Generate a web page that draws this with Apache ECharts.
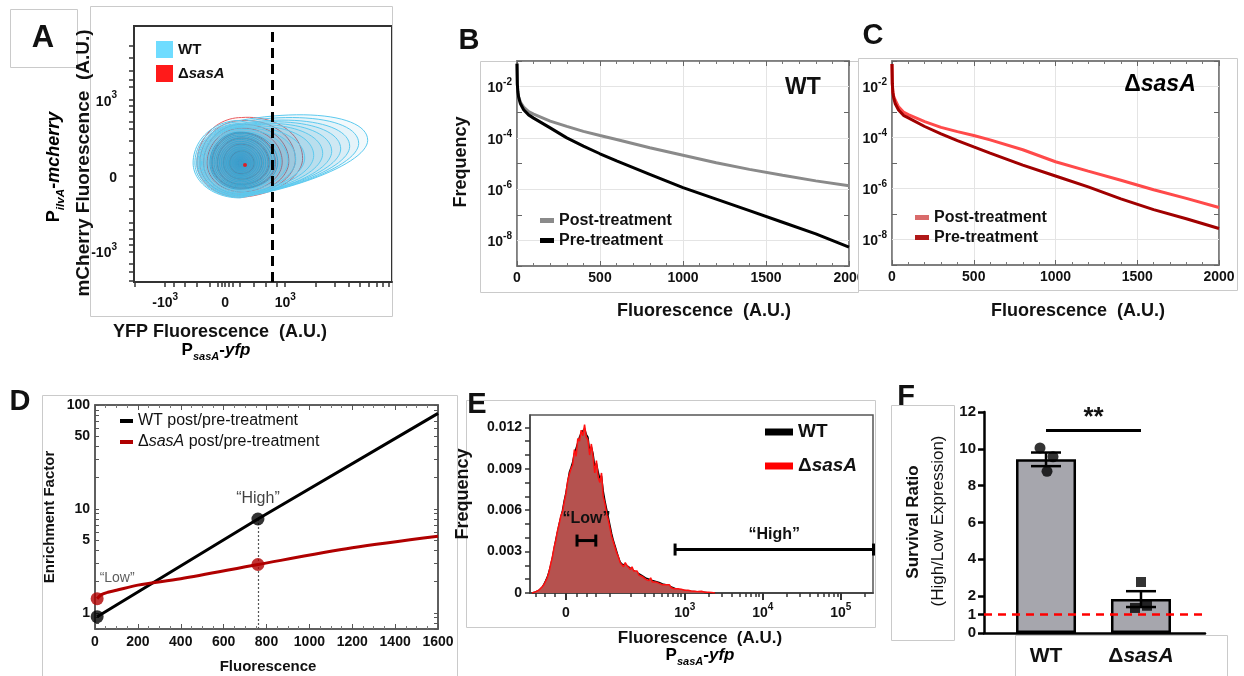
<!DOCTYPE html>
<html><head><meta charset="utf-8">
<script src="https://cdn.jsdelivr.net/npm/echarts@6/dist/echarts.min.js"></script>
<style>html,body{margin:0;padding:0;background:#fff}#c{width:1244px;height:676px}</style>
</head><body><div id="c"></div>
<script>
// ================= DATA =================
// Panel A: flow-cytometry contour levels in logicle display units
// each level: [leftRadius, rightRadius, topRadius, bottomRadius, upwardTilt]
const aCenterWT = [0.245, 0.167];
const aCenterSas = [0.27, 0.165];
const aContoursWT = [
  [0.78,2.13,0.56,0.46,0.14],[0.75,1.98,0.54,0.45,0.13],[0.72,1.83,0.52,0.44,0.12],
  [0.70,1.68,0.51,0.43,0.11],[0.68,1.53,0.50,0.43,0.10],[0.66,1.38,0.49,0.42,0.09],
  [0.64,1.23,0.48,0.41,0.08],[0.62,1.08,0.47,0.40,0.06],[0.60,0.93,0.46,0.40,0.05],
  [0.57,0.80,0.44,0.38,0.04],[0.53,0.68,0.42,0.36,0.02],[0.50,0.63,0.405,0.345,0.01],
  [0.48,0.58,0.39,0.33,0],[0.455,0.54,0.37,0.315,0],[0.43,0.50,0.35,0.30,0],
  [0.40,0.465,0.33,0.285,0],[0.37,0.43,0.31,0.27,0],[0.34,0.395,0.285,0.25,0],
  [0.31,0.36,0.26,0.23,0],[0.28,0.325,0.235,0.21,0],[0.25,0.29,0.21,0.19,0],
  [0.22,0.255,0.185,0.17,0],[0.19,0.22,0.16,0.15,0],[0.16,0.185,0.135,0.125,0],
  [0.13,0.15,0.11,0.10,0],[0.10,0.115,0.085,0.08,0],[0.07,0.08,0.06,0.06,0],[0.04,0.045,0.035,0.035,0]
];
const aContoursSas = [
  [0.74,1.02,0.60,0.45,0.06],[0.69,0.90,0.56,0.43,0.05],[0.63,0.79,0.51,0.41,0.03],
  [0.57,0.68,0.46,0.38,0.02],[0.49,0.57,0.40,0.33,0],[0.40,0.46,0.33,0.28,0],
  [0.30,0.34,0.25,0.21,0],[0.19,0.21,0.16,0.14,0]
];
const aPeakSas = [0.33, 0.14];
const aGate = 715;                       // YFP gate, A.U.
const aTickVals = [-1000, 0, 1000];
const aTickLabels = ['-10|3', '0', '10|3'];
const aMinorVals = [-5000,-4000,-3000,-2000,-1000,-800,-600,-400,-200,-100,-50,0,50,100,200,400,600,800,1000,2000,3000,4000,5000,6000,7000,8000,9000];
const aYMinorVals = [-5000,-3000,-2000,-1000,-700,-500,-300,-200,-100,-50,-20,0,20,50,100,200,300,500,700,1000,2000,3000,5000,10000,20000];

// Panels B / C: frequency vs fluorescence
const fluor   = [0,2,5,10,20,40,70,100,200,300,400,500,600,800,1000,1200,1400,1600,1800,2000];
const wtPost  = [0.079,0.0126,0.0063,0.004,0.0025,0.0016,0.00107,8.5e-4,4.5e-4,2.8e-4,1.8e-4,1.23e-4,8.7e-5,4.1e-5,2.1e-5,1.07e-5,5.9e-6,3.5e-6,2.1e-6,1.35e-6];
const wtPre   = [0.079,0.0126,0.0063,0.0038,0.0022,0.00126,7.9e-4,5.9e-4,2.45e-4,1.0e-4,4.8e-5,2.4e-5,1.26e-5,3.8e-6,1.15e-6,4.1e-7,1.45e-7,5.1e-8,1.8e-8,5.5e-9];
const sasPost = [0.076,0.0126,0.0063,0.0042,0.0029,0.0016,0.001,7.9e-4,4.2e-4,2.5e-4,1.7e-4,1.2e-4,8.1e-5,3.3e-5,1.12e-5,4.8e-6,2.1e-6,8.9e-7,4.1e-7,1.8e-7];
const sasPre  = [0.076,0.0126,0.006,0.0037,0.0021,0.0012,7.4e-4,5.9e-4,2.7e-4,1.38e-4,7.6e-5,4.3e-5,2.45e-5,8.3e-6,3.1e-6,1.15e-6,3.9e-7,1.48e-7,6.5e-8,2.7e-8];
const freqLabelExps = [-8,-6,-4,-2];

// Panel D: enrichment factor
const dWTx  = [10, 760, 1600];
const dWT   = [0.92, 8.0, 83];
const dSasX = [10,30,60,100,200,400,760,1200,1600];
const dSas  = [1.37,1.5,1.58,1.65,1.85,2.13,2.92,4.23,5.46];
const dDotsX = [10, 760];
const dDotsWT = [0.92, 8.0];
const dDotsSas = [1.37, 2.92];
const dDotLabelsWT = ['', '“High”'];
const dDotLabelsSas = ['“Low”', ''];
const dYLabels = [1, 5, 10, 50, 100];
const dYTicks = [0.7,0.8,0.9,1,2,3,4,5,6,7,8,9,10,20,30,40,50,60,70,80,90,100];

// Panel E: histograms on logicle channels (start, step in display units)
const eBinStart = -1.0, eBinStep = 0.05;
const eWT = [
  0,0.00003,0.00007,0.00011,0.00018,0.00028,0.00042,0.00062,0.00088,0.00115,0.00155,0.002,0.00255,0.0032,0.00385,0.0044,0.005,0.0055,0.006,0.0067,
  0.00725,0.008,0.00875,0.0091,0.0095,0.0101,0.0102,0.0109,0.0113,0.0116,0.0117,0.0119,0.0115,0.0113,0.0103,0.0106,0.0101,0.0092,0.0094,0.0088,
  0.0083,0.0085,0.0074,0.0067,0.0061,0.0055,0.0049,0.0043,0.0038,0.0034,0.003,0.0026,0.00225,0.0021,0.002,0.002,0.0019,0.0019,0.0018,0.0017,
  0.0016,0.00155,0.0015,0.0014,0.00135,0.00125,0.0012,0.0011,0.00105,0.001,0.00095,0.0009,0.00088,0.00084,0.0008,0.00076,0.0007,0.00066,0.00064,0.0006,
  0.00055,0.0005,0.00045,0.0004,0.00034,0.0003,0.00027,0.00024,0.00022,0.0002,0.00018,0.00016,0.00015,0.00013,0.00012,0.00011,0.0001,0.00009,0.00008,0.00007,
  0.00006,0.00005,0.00004,0.00003,0.00003,0.00002,0.00002,0.00001,0];
const eSas = [
  0,0.00004,0.00008,0.00012,0.0002,0.0003,0.00045,0.0006,0.00085,0.0011,0.0015,0.0021,0.0026,0.0033,0.0038,0.0045,0.005,0.0056,0.0059,0.0066,
  0.0072,0.0081,0.0086,0.009,0.0093,0.0104,0.0099,0.0112,0.011,0.0118,0.0114,0.0122,0.0113,0.0111,0.01,0.0108,0.0099,0.0087,0.0096,0.0084,
  0.008,0.0087,0.007,0.0065,0.0058,0.0053,0.0047,0.0041,0.0037,0.0033,0.0029,0.0026,0.0022,0.0021,0.0019,0.0022,0.002,0.0019,0.0017,0.0019,
  0.0016,0.0015,0.0016,0.0013,0.0014,0.0012,0.0013,0.001,0.0011,0.0009,0.0011,0.0008,0.0009,0.0008,0.0009,0.0007,0.0008,0.0006,0.0007,0.0006,
  0.0005,0.0006,0.0004,0.00045,0.0003,0.00025,0.0003,0.0002,0.00028,0.00018,0.0002,0.00015,0.0002,0.00012,0.00015,0.0001,0.00013,0.00008,0.0001,0.00007,
  0.00012,0.00005,0.00006,0.00004,0.00005,0.00002,0.00003,0.00001,0];
const eTickVals = [0, 1000, 10000, 100000];
const eTickLabels = ['0', '10|3', '10|4', '10|5'];
const eMinorVals = [-200,-100,-60,-40,-20,20,40,60,100,200,300,400,500,600,700,800,900,2000,3000,4000,5000,6000,7000,8000,9000,20000,30000,40000,50000,60000,70000,80000,90000,200000];
const eYLabels = [0, 0.003, 0.006, 0.009, 0.012];
const eYTicks = [0,0.001,0.002,0.003,0.004,0.005,0.006,0.007,0.008,0.009,0.010,0.011,0.012];
const eGates = [
  {name: '“Low”',  from: 20,  to: 60,     level: 0.0038},
  {name: '“High”', from: 750, to: 262144, level: 0.00315}
];

// Panel F: survival ratio
const fCats = ['WT', 'ΔsasA'];
const fMeans = [9.43, 1.84];
const fSem = [0.37, 0.43];
const fPoints = [[10.05, 9.57, 8.78], [2.77, 1.36, 1.48]];
const fYTicks = [0, 1, 2, 4, 6, 8, 10, 12];
const fRef = 1;
const fSig = {from: 0, to: 1, y: 11.0, text: '**'};

// ================= HELPERS =================
const FF = '"Liberation Sans", Arial, Helvetica, sans-serif';
const ax = v => Math.asinh(v / 645) / Math.asinh(1000 / 645);   // panel A YFP axis
const ay = v => Math.asinh(v / 30) / Math.asinh(1000 / 30);     // panel A mCherry axis
const ex = v => Math.asinh(v / 60);                             // panel E axis
const lg = Math.log10;

function contour(c, ctr) {
  const [rl, rr, rt, rb, tilt] = c, pts = [];
  for (let i = 0; i < 96; i++) {
    const t = i / 96 * 2 * Math.PI, co = Math.cos(t), si = Math.sin(t);
    const dx = (co >= 0 ? rr : rl) * co;
    const dy = (si >= 0 ? rt : rb) * si + tilt * Math.max(0, dx);
    pts.push([ctr[0] + dx, ctr[1] + dy]);
  }
  return pts;
}
const supRich = (b, s, col) => ({
  b: {fontFamily: FF, fontWeight: 'bold', fontSize: b, color: col || '#111', verticalAlign: 'bottom', lineHeight: b + 4},
  s: {fontFamily: FF, fontWeight: 'bold', fontSize: s, color: col || '#111', verticalAlign: 'top', lineHeight: s}
});
const supFmt = lab => lab.indexOf('|') < 0 ? '{b|' + lab + '}' : '{b|' + lab.split('|')[0] + '}{s|' + lab.split('|')[1] + '}';
const near = (arr, v) => arr.findIndex(a => Math.abs(a - v) < 1e-6);
const boldLab = (size, extra) => Object.assign({fontFamily: FF, fontWeight: 'bold', fontSize: size, color: '#111'}, extra || {});
const sasRich = (size, weight) => ({
  n: {fontFamily: FF, fontWeight: weight, fontSize: size, color: '#111'},
  i: {fontFamily: FF, fontWeight: weight, fontStyle: 'italic', fontSize: size, color: '#111'}
});
const sasFmt = s => s.indexOf('sasA') < 0 ? '{n|' + s + '}' : '{n|Δ}{i|sasA}{n|' + s.split('sasA')[1] + '}';
const stripPrefix = n => n.split(':')[1];
const plain = v => String(v);

// ================= AXES =================
const tickStyle = (c, w) => ({color: c, width: w || 1});
const xAxis = [], yAxis = [];
// A
xAxis.push({gridIndex: 0, type: 'value', min: -1.52, max: 2.78,
  axisLine: {show: true, lineStyle: tickStyle('#333', 2)},
  axisTick: {show: true, inside: false, length: 5, customValues: aMinorVals.map(ax), lineStyle: tickStyle('#333', 1.5)},
  axisLabel: {customValues: aTickVals.map(ax), margin: 10, formatter: v => supFmt(aTickLabels[near(aTickVals.map(ax), v)]), rich: supRich(14, 10)},
  splitLine: {show: false}});
yAxis.push({gridIndex: 0, type: 'value', min: -1.4, max: 1.97,
  axisLine: {show: true, lineStyle: tickStyle('#333', 2)},
  axisTick: {show: true, inside: false, length: 5, customValues: aYMinorVals.map(ay), lineStyle: tickStyle('#333', 1.5)},
  axisLabel: {customValues: aTickVals.map(ay), margin: 17, formatter: v => supFmt(aTickLabels[near(aTickVals.map(ay), v)]), rich: supRich(14, 10)},
  splitLine: {show: false}});
// B and C
function freqAxes(g) {
  xAxis.push({gridIndex: g, type: 'value', position: 'bottom', min: 0, max: 2000, interval: 500,
    axisLine: {lineStyle: tickStyle('#777', 1.5)},
    axisTick: {inside: true, length: 5, lineStyle: tickStyle('#666')},
    minorTick: {show: true, splitNumber: 5, length: 3, lineStyle: tickStyle('#777')},
    axisLabel: Object.assign(boldLab(14), {margin: 5, formatter: plain}),
    splitLine: {show: true, lineStyle: {color: '#e4e4e4', width: 1}}});
  xAxis.push({gridIndex: g, type: 'value', position: 'top', min: 0, max: 2000, interval: 500,
    axisLine: {lineStyle: tickStyle('#777', 1.5)},
    axisTick: {inside: true, length: 5, lineStyle: tickStyle('#666')},
    minorTick: {show: true, splitNumber: 5, length: 3, lineStyle: tickStyle('#777')},
    axisLabel: {show: false}, splitLine: {show: false}});
  yAxis.push({gridIndex: g, type: 'value', position: 'left', min: -9, max: -1, interval: 1,
    axisLine: {lineStyle: tickStyle('#777', 1.5)},
    axisTick: {inside: true, length: 5, lineStyle: tickStyle('#666')},
    axisLabel: {customValues: freqLabelExps, margin: 5, formatter: v => '{b|10}{s|' + v + '}', rich: supRich(14, 10)},
    splitLine: {show: false}});
  yAxis.push({gridIndex: g, type: 'value', position: 'right', min: -9, max: -1, interval: 1,
    axisLine: {lineStyle: tickStyle('#777', 1.5)},
    axisTick: {inside: true, length: 5, lineStyle: tickStyle('#666')},
    axisLabel: {show: false}, splitLine: {show: false}});
}
freqAxes(1); freqAxes(2);
// D
xAxis.push({gridIndex: 3, type: 'value', position: 'bottom', min: 0, max: 1600, interval: 200,
  axisLine: {lineStyle: tickStyle('#555', 1.5)},
  axisTick: {inside: true, length: 5, lineStyle: tickStyle('#555')},
  minorTick: {show: true, splitNumber: 4, length: 3, lineStyle: tickStyle('#777')},
  axisLabel: Object.assign(boldLab(14), {margin: 6, formatter: plain}), splitLine: {show: false}});
xAxis.push({gridIndex: 3, type: 'value', position: 'top', min: 0, max: 1600, interval: 200,
  axisLine: {lineStyle: tickStyle('#555', 1.5)},
  axisTick: {inside: true, length: 5, lineStyle: tickStyle('#555')},
  minorTick: {show: true, splitNumber: 4, length: 3, lineStyle: tickStyle('#777')},
  axisLabel: {show: false}, splitLine: {show: false}});
yAxis.push({gridIndex: 3, type: 'value', position: 'left', min: lg(0.7), max: 2,
  axisLine: {lineStyle: tickStyle('#555', 1.5)},
  axisTick: {inside: true, length: 4, customValues: dYTicks.map(lg), lineStyle: tickStyle('#555')},
  axisLabel: Object.assign(boldLab(14), {customValues: dYLabels.map(lg), margin: 5, formatter: v => String(Math.round(Math.pow(10, v)))}),
  splitLine: {show: false}});
yAxis.push({gridIndex: 3, type: 'value', position: 'right', min: lg(0.7), max: 2,
  axisLine: {lineStyle: tickStyle('#555', 1.5)},
  axisTick: {inside: true, length: 4, customValues: dYTicks.map(lg), lineStyle: tickStyle('#555')},
  axisLabel: {show: false}, splitLine: {show: false}});
// E
xAxis.push({gridIndex: 4, type: 'value', position: 'bottom', min: -1.06, max: 9.06,
  axisLine: {lineStyle: tickStyle('#444', 1.5)},
  axisTick: {inside: false, length: 7, customValues: eTickVals.map(ex), lineStyle: tickStyle('#333', 2)},
  axisLabel: {customValues: eTickVals.map(ex), margin: 9, formatter: v => supFmt(eTickLabels[near(eTickVals.map(ex), v)]), rich: supRich(14, 10)},
  splitLine: {show: false}});
xAxis.push({gridIndex: 4, type: 'value', position: 'bottom', min: -1.06, max: 9.06,
  axisLine: {lineStyle: tickStyle('#444', 1.5)},
  axisTick: {inside: false, length: 4, customValues: eMinorVals.map(ex), lineStyle: tickStyle('#333', 1.5)},
  axisLabel: {show: false}, splitLine: {show: false}});
yAxis.push({gridIndex: 4, type: 'value', position: 'left', min: 0, max: 0.0129,
  axisLine: {lineStyle: tickStyle('#444', 1.5)},
  axisTick: {inside: false, length: 5, customValues: eYTicks, lineStyle: tickStyle('#333', 1.5)},
  axisLabel: Object.assign(boldLab(14), {customValues: eYLabels, margin: 8, formatter: v => v === 0 ? '0' : v.toFixed(3)}),
  splitLine: {show: false}});
// F
xAxis.push({gridIndex: 5, type: 'value', position: 'bottom', min: -0.653, max: 1.674,
  axisLine: {lineStyle: tickStyle('#000', 2.5)}, axisTick: {show: false},
  axisLabel: {customValues: [0, 1], margin: 13, formatter: v => sasFmt(fCats[Math.round(v)]), rich: sasRich(21, 'bold')},
  splitLine: {show: false}});
yAxis.push({gridIndex: 5, type: 'value', position: 'left', min: 0, max: 12,
  axisLine: {lineStyle: tickStyle('#000', 2.5)},
  axisTick: {inside: false, length: 6, customValues: fYTicks, lineStyle: tickStyle('#000', 2.5)},
  axisLabel: Object.assign(boldLab(15), {customValues: fYTicks, margin: 8}),
  splitLine: {show: false}});
xAxis.concat(yAxis).forEach(a => { a.axisLine = Object.assign({show: true, onZero: false}, a.axisLine); });

// ================= SERIES =================
const series = [];
const base = {animation: false, silent: true};
function contourSeries(name, levels, ctr, fill, stroke, strokeInner, z) {
  series.push(Object.assign({type: 'custom', name: name, xAxisIndex: 0, yAxisIndex: 0, z: z, color: stroke,
    data: levels.map(() => ctr.slice()),
    renderItem: (p, api) => ({type: 'polygon',
      shape: {points: contour(levels[p.dataIndex], ctr).map(q => api.coord(q))},
      style: {fill: fill, stroke: p.dataIndex < 11 ? stroke : strokeInner, lineWidth: 1}})}, base));
}
contourSeries('A:ΔsasA', aContoursSas, aCenterSas, 'rgba(230,80,80,0.04)', '#ea5d5f', '#e04848', 2);
contourSeries('A:WT', aContoursWT, aCenterWT, 'rgba(40,160,210,0.06)', '#5ccaef', '#38a6d2', 3);
series.push(Object.assign({type: 'scatter', xAxisIndex: 0, yAxisIndex: 0, data: [aPeakSas], symbolSize: 4, color: '#ff0000', z: 5,
  markLine: {silent: true, symbol: 'none', z: 6, label: {show: false}, lineStyle: {color: '#000', type: [10, 6], width: 3},
    data: [{xAxis: ax(aGate)}]}}, base));

function freqSeries(g, xi, yi, post, pre, cPost, cPre) {
  series.push(Object.assign({type: 'line', name: g + ':Post-treatment', xAxisIndex: xi, yAxisIndex: yi,
    data: fluor.map((x, i) => [x, lg(post[i])]), symbol: 'none', color: cPost[0],
    lineStyle: {color: cPost[1], width: 3}, z: 3,
    markLine: {silent: true, symbol: 'none', z: 1, label: {show: false}, lineStyle: {color: '#e4e4e4', type: 'solid', width: 1},
      data: freqLabelExps.map(e => ({yAxis: e}))}}, base));
  series.push(Object.assign({type: 'line', name: g + ':Pre-treatment', xAxisIndex: xi, yAxisIndex: yi,
    data: fluor.map((x, i) => [x, lg(pre[i])]), symbol: 'none', color: cPre[0],
    lineStyle: {color: cPre[1], width: 3}, z: 4}, base));
}
freqSeries('B', 1, 1, wtPost, wtPre, ['#8a8a8a', '#8a8a8a'], ['#000', '#000']);
freqSeries('C', 3, 3, sasPost, sasPre, ['#d96b6b', '#ff4a4a'], ['#b01818', '#a00000']);

// D
series.push(Object.assign({type: 'line', name: 'D:WT post/pre-treatment', xAxisIndex: 5, yAxisIndex: 5,
  data: dWTx.map((x, i) => [x, lg(dWT[i])]), symbol: 'none', color: '#000', lineStyle: {color: '#000', width: 3}, z: 3}, base));
series.push(Object.assign({type: 'line', name: 'D:ΔsasA post/pre-treatment', xAxisIndex: 5, yAxisIndex: 5,
  data: dSasX.map((x, i) => [x, lg(dSas[i])]), smooth: 0.3, symbol: 'none', color: '#b00000', lineStyle: {color: '#b00000', width: 3}, z: 3}, base));
series.push(Object.assign({type: 'scatter', xAxisIndex: 5, yAxisIndex: 5, symbolSize: 13, color: '#b00000', z: 5,
  data: dDotsX.map((x, i) => ({value: [x, lg(dDotsSas[i])],
    label: {show: !!dDotLabelsSas[i], formatter: dDotLabelsSas[i], position: 'top', distance: 7, offset: [20, 0],
      fontFamily: FF, fontSize: 14, color: '#333'}}))}, base));
series.push(Object.assign({type: 'scatter', xAxisIndex: 5, yAxisIndex: 5, symbolSize: 13, color: '#000', z: 6,
  data: dDotsX.map((x, i) => ({value: [x, lg(dDotsWT[i])],
    label: {show: !!dDotLabelsWT[i], formatter: dDotLabelsWT[i], position: 'top', distance: 6,
      fontFamily: FF, fontSize: 16, color: '#111'}})),
  markLine: {silent: true, symbol: 'none', z: 2, label: {show: false}, lineStyle: {color: '#555', type: [2, 2], width: 1.2},
    data: [[{coord: [dDotsX[1], lg(0.7)]}, {coord: [dDotsX[1], lg(dDotsWT[1])]}]]}}, base));

// E
series.push(Object.assign({type: 'line', name: 'E:WT', xAxisIndex: 7, yAxisIndex: 7,
  data: eWT.map((v, i) => [eBinStart + i * eBinStep, v]), symbol: 'none', color: '#000',
  lineStyle: {color: '#000', width: 1.5}, z: 2}, base));
series.push(Object.assign({type: 'line', name: 'E:ΔsasA', xAxisIndex: 7, yAxisIndex: 7,
  data: eSas.map((v, i) => [eBinStart + i * eBinStep, v]), symbol: 'none', color: '#ff0000',
  lineStyle: {color: '#ff1010', width: 1.5}, areaStyle: {color: '#b5524f', opacity: 1}, z: 3}, base));
const eGateDy = [-22, -15];
series.push(Object.assign({type: 'custom', xAxisIndex: 7, yAxisIndex: 7, z: 6,
  data: eGates.map(g => [ex(g.from), g.level, ex(g.to)]), encode: {x: [0, 2], y: 1},
  renderItem: (p, api) => {
    const g = eGates[p.dataIndex];
    const a = api.coord([api.value(0), api.value(1)]), b = api.coord([api.value(2), api.value(1)]);
    const st = {stroke: '#000', lineWidth: 3};
    return {type: 'group', children: [
      {type: 'line', shape: {x1: a[0], y1: a[1], x2: b[0], y2: b[1]}, style: st},
      {type: 'line', shape: {x1: a[0], y1: a[1] - 6, x2: a[0], y2: a[1] + 6}, style: st},
      {type: 'line', shape: {x1: b[0], y1: b[1] - 6, x2: b[0], y2: b[1] + 6}, style: st},
      {type: 'text', x: (a[0] + b[0]) / 2, y: a[1] + eGateDy[p.dataIndex],
        style: {text: g.name, fill: '#111', font: 'bold 16px ' + FF, textAlign: 'center', textVerticalAlign: 'middle'}}
    ]};
  }}, base));

// F
series.push(Object.assign({type: 'bar', xAxisIndex: 9, yAxisIndex: 8, barWidth: 60,
  data: fMeans.map((m, i) => [i, m]), itemStyle: {color: '#a6a6ad', borderColor: '#000', borderWidth: 2.5}, z: 2,
  markLine: {silent: true, symbol: 'none', z: 3, label: {show: false}, lineStyle: {color: '#ff0000', type: [8, 6], width: 2.5},
    data: [{yAxis: fRef}]}}, base));
series.push(Object.assign({type: 'custom', xAxisIndex: 9, yAxisIndex: 8, z: 4,
  data: fMeans.map((m, i) => [i, m, fSem[i]]),
  renderItem: (p, api) => {
    const x = api.value(0), m = api.value(1), s = api.value(2);
    const hi = api.coord([x, m + s]), lo = api.coord([x, m - s]);
    const st = {stroke: '#000', lineWidth: 2.5};
    return {type: 'group', children: [
      {type: 'line', shape: {x1: hi[0], y1: hi[1], x2: lo[0], y2: lo[1]}, style: st},
      {type: 'line', shape: {x1: hi[0] - 15, y1: hi[1], x2: hi[0] + 15, y2: hi[1]}, style: st},
      {type: 'line', shape: {x1: lo[0] - 15, y1: lo[1], x2: lo[0] + 15, y2: lo[1]}, style: st}
    ]};
  }}, base));
const fJitter = [[-6, 7, 1], [0, -6, 6]];
fPoints.forEach((pts, g) => series.push(Object.assign({type: 'scatter', xAxisIndex: 9, yAxisIndex: 8, z: 5,
  symbol: g === 0 ? 'circle' : 'rect', symbolSize: g === 0 ? 11 : 10, color: '#000',
  data: pts.map((v, k) => ({value: [g, v], symbolOffset: [fJitter[g][k], 0]}))}, base)));
series.push(Object.assign({type: 'custom', xAxisIndex: 9, yAxisIndex: 8, z: 5,
  data: [[fSig.from, fSig.y, fSig.to]],
  renderItem: (p, api) => {
    const a = api.coord([api.value(0), api.value(1)]), b = api.coord([api.value(2), api.value(1)]);
    return {type: 'group', children: [
      {type: 'line', shape: {x1: a[0], y1: a[1], x2: b[0], y2: b[1]}, style: {stroke: '#000', lineWidth: 3}},
      {type: 'text', x: (a[0] + b[0]) / 2, y: a[1] - 13,
        style: {text: fSig.text, fill: '#111', font: 'bold 26px ' + FF, textAlign: 'center', textVerticalAlign: 'middle'}}
    ]};
  }}, base));

// ================= LEGENDS =================
const legends = [
  {left: 156, top: 41, orient: 'vertical', icon: 'rect', itemWidth: 17, itemHeight: 17, itemGap: 7,
    data: [{name: 'A:WT', itemStyle: {color: '#6fdcff'}}, {name: 'A:ΔsasA', itemStyle: {color: '#ff1a1a'}}],
    formatter: n => sasFmt(stripPrefix(n)), textStyle: {rich: sasRich(15, 'bold')}},
  {left: 540, top: 212, orient: 'vertical', icon: 'rect', itemWidth: 14, itemHeight: 5, itemGap: 3,
    data: [{name: 'B:Post-treatment', itemStyle: {color: '#8a8a8a'}}, {name: 'B:Pre-treatment', itemStyle: {color: '#000'}}],
    formatter: n => sasFmt(stripPrefix(n)), textStyle: {rich: sasRich(16, 'bold'), lineHeight: 17}},
  {left: 915, top: 209, orient: 'vertical', icon: 'rect', itemWidth: 14, itemHeight: 5, itemGap: 3,
    data: [{name: 'C:Post-treatment', itemStyle: {color: '#d96b6b'}}, {name: 'C:Pre-treatment', itemStyle: {color: '#b01818'}}],
    formatter: n => sasFmt(stripPrefix(n)), textStyle: {rich: sasRich(16, 'bold'), lineHeight: 17}},
  {left: 120, top: 412, orient: 'vertical', icon: 'rect', itemWidth: 13, itemHeight: 4, itemGap: 3,
    data: [{name: 'D:WT post/pre-treatment', itemStyle: {color: '#000'}}, {name: 'D:ΔsasA post/pre-treatment', itemStyle: {color: '#b00000'}}],
    formatter: n => sasFmt(stripPrefix(n)), textStyle: {rich: sasRich(16, 'normal'), lineHeight: 18}},
  {left: 765, top: 421, orient: 'vertical', icon: 'rect', itemWidth: 28, itemHeight: 7, itemGap: 12,
    data: [{name: 'E:WT', itemStyle: {color: '#000'}}, {name: 'E:ΔsasA', itemStyle: {color: '#ff0000'}}],
    formatter: n => sasFmt(stripPrefix(n)), textStyle: {rich: sasRich(19, 'bold'), lineHeight: 22}}
].map(l => Object.assign({selectedMode: false, padding: 0, z: 20}, l));

// ================= GRAPHICS (frames, titles, panel letters) =================
const box = (x, y, w, h, z) => ({type: 'rect', z: z || 0, silent: true, shape: {x: x + 0.5, y: y + 0.5, width: w, height: h},
  style: {fill: 'none', stroke: '#cacaca', lineWidth: 1}});
const txt = (x, y, text, font, opt) => Object.assign({type: 'text', x: x, y: y, z: 50, silent: true,
  style: {text: text, font: font, fill: '#111', textAlign: 'center', textVerticalAlign: 'middle'}}, opt || {});
const richTxt = (x, y, text, rich, opt) => Object.assign({type: 'text', x: x, y: y, z: 50, silent: true,
  style: {text: text, rich: rich, textAlign: 'center', textVerticalAlign: 'middle'}}, opt || {});
const R90 = {rotation: Math.PI / 2};
const subRich = (size) => ({
  p: {fontFamily: FF, fontWeight: 'bold', fontSize: size, color: '#111', verticalAlign: 'top', lineHeight: size + 4},
  u: {fontFamily: FF, fontWeight: 'bold', fontStyle: 'italic', fontSize: size * 0.65, color: '#111', verticalAlign: 'bottom', lineHeight: size + 4},
  i: {fontFamily: FF, fontWeight: 'bold', fontStyle: 'italic', fontSize: size, color: '#111', verticalAlign: 'top', lineHeight: size + 4}
});
const B18 = 'bold 18px ' + FF;
const graphic = [
  box(10, 9, 67, 58), box(90, 6, 302, 310), box(480, 61, 378, 231),
  {type: 'rect', z: 90, silent: true, shape: {x: 858, y: 266, width: 9, height: 24}, style: {fill: '#fff'}},
  box(858, 58, 379, 232, 91), box(42, 395, 415, 300), box(466, 400, 409, 227),
  box(891, 405, 63, 235), box(1015, 635, 212, 60),
  txt(43, 38, 'A', 'bold 31px ' + FF),
  richTxt(56, 167, '{p|P}{u|ilvA}{p|-}{i|mcherry}', subRich(18), R90),
  txt(84, 163, 'mCherry Fluorescence  (A.U.)', 'bold 19px ' + FF, R90),
  txt(220, 332, 'YFP Fluorescence  (A.U.)', B18),
  richTxt(216, 352, '{p|P}{u|sasA}{p|-}{i|yfp}', subRich(17)),
  txt(469, 41, 'B', 'bold 29px ' + FF),
  txt(461, 162, 'Frequency', B18, R90),
  txt(704, 311, 'Fluorescence  (A.U.)', B18),
  txt(803, 88, 'WT', 'bold 23px ' + FF),
  txt(873, 36, 'C', 'bold 29px ' + FF),
  txt(1078, 311, 'Fluorescence  (A.U.)', B18),
  richTxt(1160, 85, '{n|Δ}{i|sasA}', sasRich(23, 'bold')),
  txt(20, 402, 'D', 'bold 29px ' + FF),
  txt(50, 517, 'Enrichment Factor', 'bold 15px ' + FF, R90),
  txt(268, 667, 'Fluorescence', 'bold 15px ' + FF),
  txt(477, 405, 'E', 'bold 29px ' + FF),
  txt(463, 494, 'Frequency', 'bold 18px ' + FF, R90),
  txt(700, 638, 'Fluorescence  (A.U.)', 'bold 17px ' + FF),
  richTxt(700, 657, '{p|P}{u|sasA}{p|-}{i|yfp}', subRich(17)),
  txt(906, 397, 'F', 'bold 29px ' + FF),
  txt(913, 522, 'Survival Ratio', 'bold 17px ' + FF, R90),
  txt(938, 521, '(High/Low Expression)', '17px ' + FF, R90)
];

// ================= CHART =================
const chart = echarts.init(document.getElementById('c'), null, {renderer: 'canvas', width: 1244, height: 676});
chart.setOption({
  animation: false,
  backgroundColor: '#fff',
  textStyle: {fontFamily: FF},
  grid: [
    {left: 134, top: 26, width: 258, height: 256, show: true, borderColor: '#333', borderWidth: 2, backgroundColor: 'transparent'},
    {left: 517, top: 61, width: 332, height: 205, show: true, borderColor: '#777', borderWidth: 1.5, backgroundColor: 'transparent'},
    {left: 892, top: 61, width: 327, height: 204, show: true, borderColor: '#777', borderWidth: 1.5, backgroundColor: 'transparent'},
    {left: 95, top: 405, width: 343, height: 224, show: true, borderColor: '#555', borderWidth: 1.5, backgroundColor: 'transparent'},
    {left: 530, top: 415, width: 343, height: 178, show: true, borderColor: '#555', borderWidth: 1.5, backgroundColor: 'transparent'},
    {left: 984, top: 412, width: 221, height: 221, show: false}
  ],
  xAxis: xAxis, yAxis: yAxis, series: series, legend: legends, graphic: graphic
});
</script></body></html>
